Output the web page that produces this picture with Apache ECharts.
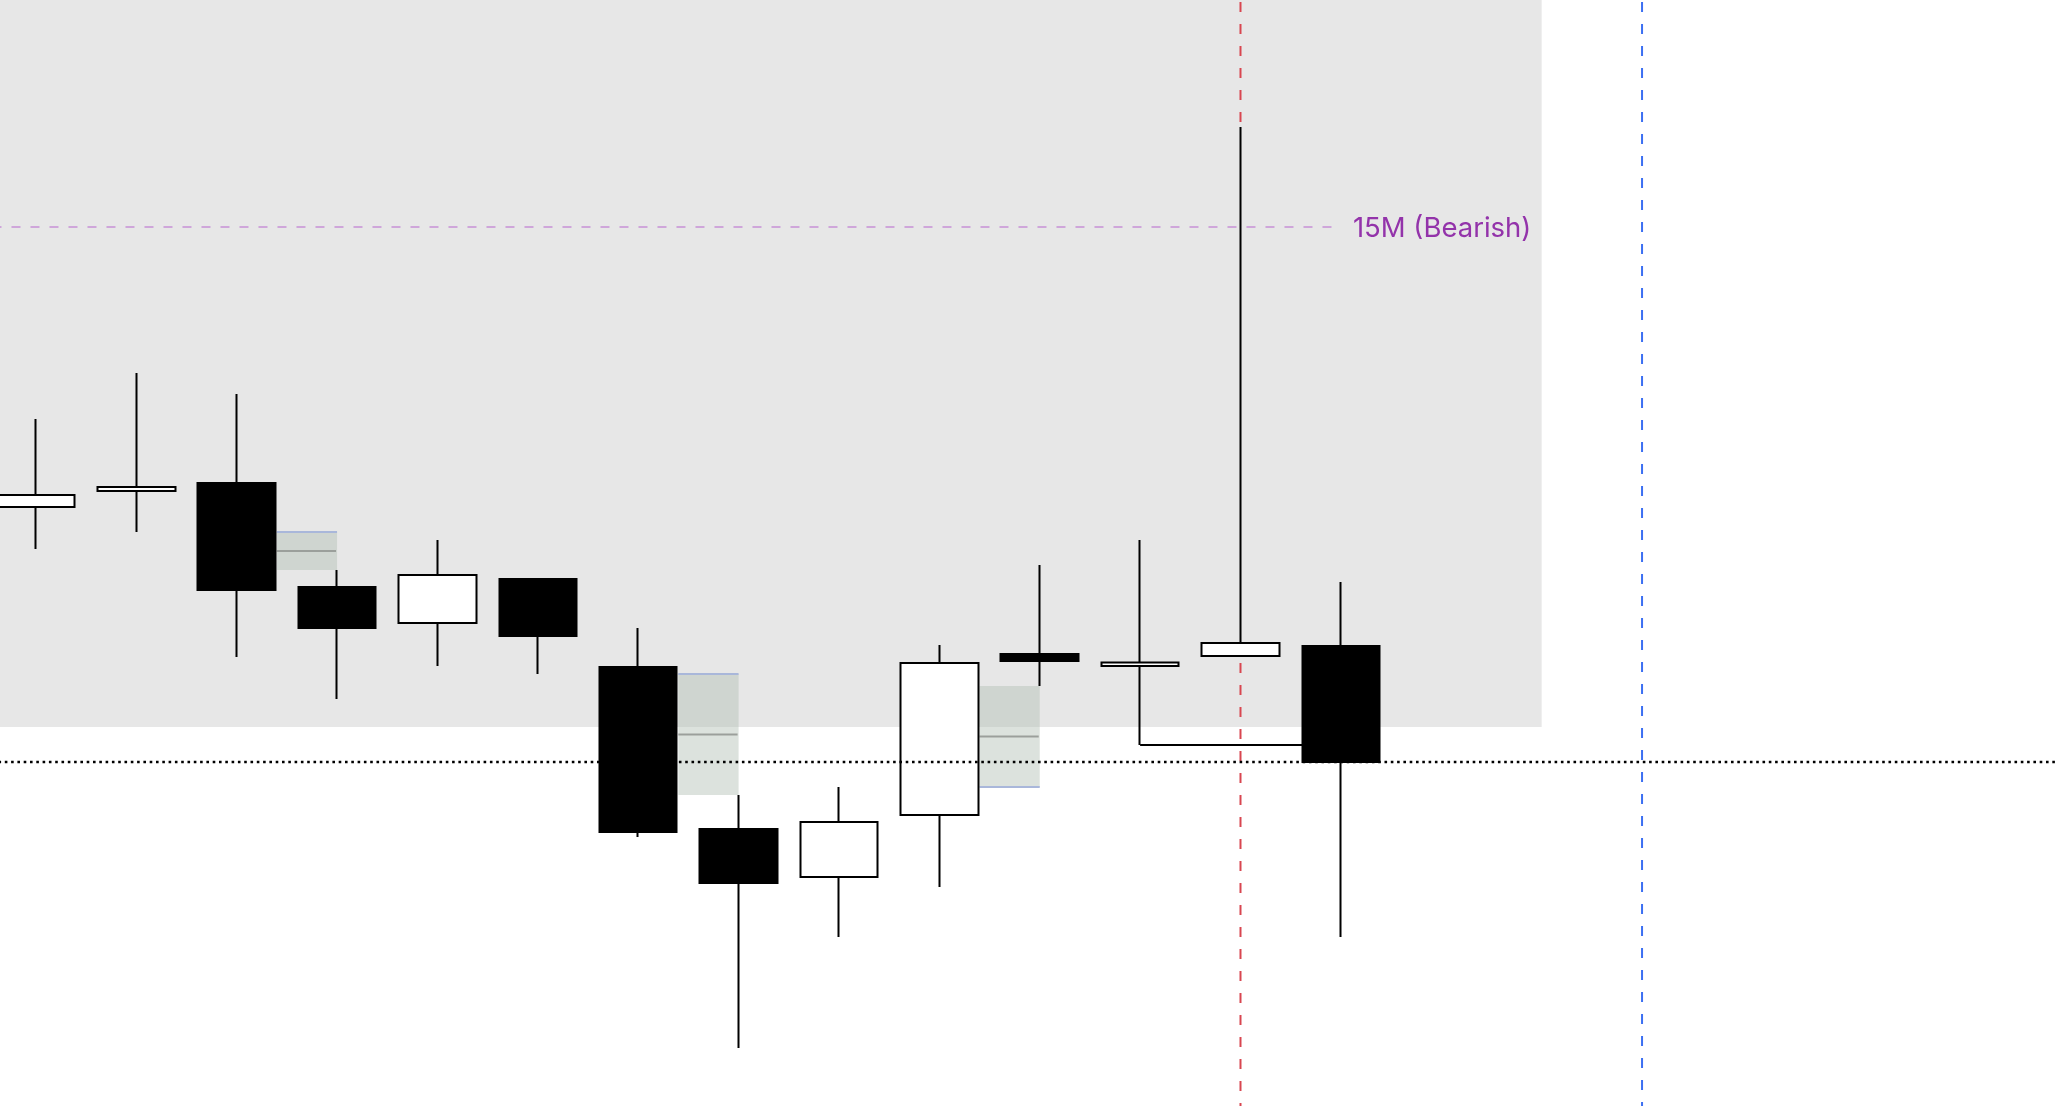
<!DOCTYPE html>
<html>
<head>
<meta charset="utf-8">
<script src="https://cdn.jsdelivr.net/npm/echarts@6/dist/echarts.min.js"></script>
<style>
html,body{margin:0;padding:0;background:#ffffff;}
#chart{width:2058px;height:1106px;}
</style>
</head>
<body>
<div id="chart"></div>
<script>
// ---- data (bar index on x, price on y) ----
const candleIndex = [0, 1, 2, 3, 4, 5, 6, 7, 8, 9, 10, 11, 12, 13];
const openP  = [59.9, 61.5, 62.3, 51.9, 48.3, 52.7, 43.9, 27.7, 22.9, 29.1, 45.2, 44.0, 45.0, 46.0];
const closeP = [61.1, 61.9, 51.6, 47.8, 53.1, 47.0, 27.4, 22.3, 28.4, 44.3, 44.5, 44.35, 46.3, 34.4];
const lowP   = [55.7, 57.4, 44.9, 40.7, 44.0, 43.2, 26.9,  5.8, 16.9, 21.9, 42.0, 36.1, 45.0, 16.9];
const highP  = [68.7, 73.3, 71.2, 53.6, 56.6, 52.7, 47.8, 31.1, 31.9, 46.1, 54.1, 56.6, 97.9, 52.4];

// fair value gaps
const fvgStart  = [2.4, 6.4, 9.4];
const fvgEnd    = [3, 7, 10];
const fvgTop    = [57.4, 43.2, 42.0];
const fvgBottom = [53.6, 31.1, 31.9];
const fvgEdgeTop = [1, 1, 0];   // 1 = blue edge on top, 0 = on bottom

// levels
const bearishLevel = 87.9;
const bearishLabel = '15M (Bearish)';
const lastClose = 34.4;
const sweepLevel = 36.1;
const sweepFrom = 11, sweepTo = 13;
const redMarker = 12;
const blueMarker = 16;

const xMin = -0.35742, xMax = 20.14365;
const yMin = 0, yMax = 110.6;

// zone
const zoneX = [xMin, 15];
const zoneY = [37.9, yMax];

const candleData = candleIndex.map((x, i) => [x, openP[i], closeP[i], lowP[i], highP[i]]);
const fvgData = fvgStart.map((s, i) => [s, fvgEnd[i], fvgTop[i], fvgBottom[i], fvgEdgeTop[i]]);
const redIdx = candleIndex.indexOf(redMarker);

const chart = echarts.init(document.getElementById('chart'), null, {renderer: 'canvas'});
chart.setOption({
  animation: false,
  backgroundColor: '#ffffff',
  grid: {left: 0, right: 0, top: 0, bottom: 0},
  xAxis: {type: 'value', min: xMin, max: xMax, show: false, splitLine: {show: false}},
  yAxis: {type: 'value', min: yMin, max: yMax, show: false, splitLine: {show: false}},
  series: [
    {
      type: 'custom', z: 0, silent: true,
      data: [[zoneX[0], zoneX[1], zoneY[1], zoneY[0]]],
      encode: {x: [0, 1], y: [2, 3]},
      renderItem: function (params, api) {
        const p0 = api.coord([api.value(0), api.value(2)]);
        const p1 = api.coord([api.value(1), api.value(3)]);
        return {type: 'rect', shape: {x: p0[0], y: p0[1], width: p1[0] - p0[0], height: p1[1] - p0[1]},
                style: {fill: '#e7e7e7'}};
      }
    },
    {
      type: 'custom', z: 1, silent: true,
      data: fvgData,
      encode: {x: [0, 1], y: [2, 3]},
      renderItem: function (params, api) {
        const x0 = api.value(0), x1 = api.value(1), yT = api.value(2), yB = api.value(3), edgeTop = api.value(4);
        const p0 = api.coord([x0, yT]);
        const p1 = api.coord([x1, yB]);
        const pm = api.coord([x0, (yT + yB) / 2]);
        const ey = edgeTop ? p0[1] : p1[1];
        return {type: 'group', children: [
          {type: 'rect', shape: {x: p0[0], y: p0[1], width: p1[0] - p0[0], height: p1[1] - p0[1]},
           style: {fill: 'rgba(178,190,180,0.45)'}},
          {type: 'line', shape: {x1: p0[0], y1: pm[1], x2: p1[0] - 1, y2: pm[1]},
           style: {stroke: '#9b9f9b', lineWidth: 2}},
          {type: 'line', shape: {x1: p0[0], y1: ey, x2: p1[0], y2: ey},
           style: {stroke: '#a9b7da', lineWidth: 2}}
        ]};
      }
    },
    {
      type: 'line', z: 1, silent: true, symbol: 'none',
      data: [[-1, bearishLevel], [13, bearishLevel]],
      lineStyle: {color: '#cfa6da', width: 2, type: [9, 10]},
      endLabel: {show: true, formatter: bearishLabel, color: '#9333aa', fontSize: 27.5,
                 fontFamily: 'Inter, "Noto Sans", sans-serif', distance: 12, offset: [0, 2]}
    },
    {
      type: 'line', z: 1, silent: true, symbol: 'none',
      data: [[redMarker, yMax], [redMarker, highP[redIdx]]],
      lineStyle: {color: '#d84650', width: 2, type: [10, 12], dashOffset: 20}
    },
    {
      type: 'line', z: 1, silent: true, symbol: 'none',
      data: [[redMarker, lowP[redIdx]], [redMarker, yMin]],
      lineStyle: {color: '#d84650', width: 2, type: [10, 12], dashOffset: 15}
    },
    {
      type: 'line', z: 1, silent: true, symbol: 'none',
      data: [[blueMarker, yMax], [blueMarker, yMin]],
      lineStyle: {color: '#3c6ff2', width: 2, type: [10, 12], dashOffset: 20}
    },
    {
      type: 'line', z: 1, silent: true, symbol: 'none',
      data: [[sweepFrom, sweepLevel], [sweepTo, sweepLevel]],
      lineStyle: {color: '#000000', width: 2, type: 'solid'}
    },
    {
      type: 'candlestick', z: 3, silent: true,
      barWidth: 78,
      data: candleData,
      itemStyle: {color: '#ffffff', color0: '#000000', borderColor: '#000000', borderColor0: '#000000', borderWidth: 2},
      emphasis: {disabled: true}
    },
    {
      type: 'line', z: 10, silent: true, symbol: 'none',
      data: [[-1, lastClose], [21, lastClose]],
      lineStyle: {color: '#000000', width: 2.5, type: [2.6, 3.7]}
    }
  ]
});
</script>
</body>
</html>
